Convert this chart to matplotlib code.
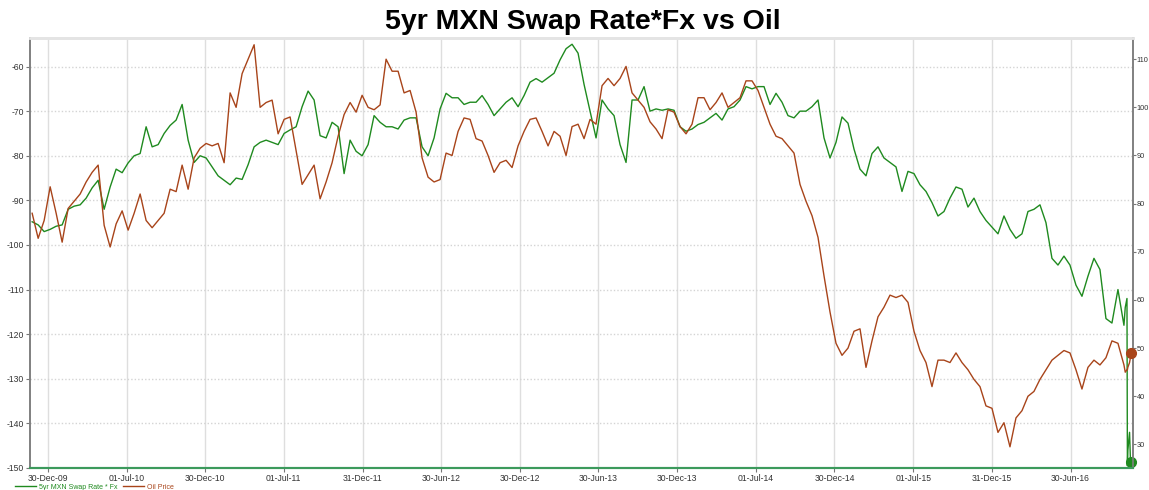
import matplotlib
matplotlib.use("Agg")
import matplotlib.pyplot as plt
import matplotlib.dates as mdates
import pandas as pd

plt.rcParams['font.family'] = ['Liberation Sans', 'DejaVu Sans']
plt.rcParams['axes.unicode_minus'] = False

# fortnightly readings, 24-Nov-09 .. 01-Nov-16
swap_fx = [
	-94.8, -95.5, -97.0, -96.5, -95.8, -95.5, -92.0, -91.3, -91.0, -89.5,
	-87.2, -85.5, -92.0, -87.0, -83.0, -83.8, -81.6, -80.0, -79.5, -73.5,
	-78.0, -77.5, -75.0, -73.2, -72.0, -68.5, -76.5, -81.5, -80.0, -80.5,
	-82.5, -84.5, -85.5, -86.5, -85.0, -85.3, -82.0, -78.0, -77.0, -76.5,
	-77.0, -77.5, -75.0, -74.2, -73.5, -69.0, -65.5, -67.5, -75.5, -76.0,
	-72.5, -73.5, -84.0, -76.5, -79.0, -80.0, -77.5, -71.0, -72.5, -73.5,
	-73.5, -74.0, -72.0, -71.5, -71.5, -78.0, -80.0, -76.0, -69.5, -66.0,
	-67.0, -67.0, -68.5, -68.0, -68.0, -66.5, -68.5, -71.0, -69.5, -68.0,
	-67.0, -69.0, -66.5, -63.5, -62.7, -63.5, -62.5, -61.5, -58.5, -56.0,
	-55.0, -57.0, -64.0, -70.0, -76.0, -67.5, -69.5, -71.0, -77.5, -81.5,
	-67.5, -67.5, -64.5, -70.0, -69.5, -69.8, -69.5, -69.8, -73.5, -74.5,
	-74.0, -73.0, -72.5, -71.5, -70.5, -72.0, -69.5, -69.0, -67.5, -64.5,
	-65.0, -64.5, -64.5, -68.5, -66.0, -68.0, -71.0, -71.5, -70.0, -70.0,
	-69.0, -67.5, -76.0, -80.5, -77.0, -71.3, -72.7, -78.5, -83.0, -84.5,
	-79.5, -78.0, -80.5, -81.5, -82.5, -88.0, -83.5, -84.0, -86.5, -88.0,
	-90.5, -93.5, -92.5, -89.5, -87.0, -87.5, -91.5, -89.5, -92.5, -94.5,
	-96.0, -97.5, -93.5, -96.5, -98.5, -97.5, -92.5, -92.0, -91.0, -95.0,
	-103.0, -104.5, -102.5, -104.5, -109.0, -111.5, -107.0, -103.0, -105.5, -116.5,
	-117.5, -110.0, -118.0,
]
oil = [
	78.0, 72.8, 76.5, 83.5, 78.0, 72.0, 79.0, 80.5, 82.0, 84.5,
	86.5, 88.0, 75.5, 71.0, 75.8, 78.5, 74.5, 78.0, 82.0, 76.5,
	75.0, 76.5, 78.0, 83.0, 82.5, 88.0, 83.0, 89.5, 91.5, 92.5,
	92.0, 92.5, 88.5, 103.0, 100.0, 107.0, 110.0, 113.0, 100.0, 101.0,
	101.5, 94.5, 97.5, 98.0, 91.0, 84.0, 86.0, 88.0, 81.0, 84.5,
	88.5, 94.0, 98.5, 101.0, 99.0, 102.5, 100.0, 99.5, 100.5, 110.0,
	107.5, 107.5, 103.0, 103.5, 99.0, 89.5, 85.5, 84.5, 85.0, 90.5,
	90.0, 95.0, 97.8, 97.5, 93.5, 93.0, 90.0, 86.5, 88.5, 89.0,
	87.5, 92.0, 95.0, 97.5, 97.8, 95.0, 92.0, 95.0, 94.0, 90.0,
	96.0, 96.5, 93.5, 97.5, 96.5, 104.5, 106.0, 104.5, 106.0, 108.5,
	103.0, 101.5, 100.0, 97.0, 95.5, 93.5, 99.5, 99.0, 96.0, 94.5,
	96.5, 102.0, 102.0, 99.5, 101.0, 103.0, 100.0, 101.0, 102.0, 105.5,
	105.5, 103.5, 100.0, 96.5, 94.0, 93.5, 92.0, 90.5, 84.0, 80.5,
	77.5, 73.0, 65.0, 57.5, 51.0, 48.5, 50.0, 53.5, 54.0, 46.0,
	51.5, 56.5, 58.5, 61.0, 60.5, 61.0, 59.5, 53.5, 49.5, 47.0,
	42.0, 47.5, 47.5, 47.0, 49.0, 47.0, 45.5, 43.5, 42.0, 38.0,
	37.5, 32.5, 34.5, 29.5, 35.5, 37.0, 40.0, 41.0, 43.5, 45.5,
	47.5, 48.5, 49.5, 49.0, 45.5, 41.5, 46.0, 47.5, 46.5, 48.0,
	51.5, 51.0, 46.5,
]

# daily readings around the US election
tail_dates = ["2016-11-04", "2016-11-08", "2016-11-09", "2016-11-10",
	"2016-11-14", "2016-11-16", "2016-11-18"]
tail_swap_fx = [-114.0, -112.0, -149.5, -146.0, -142.0, -148.0, -148.6]
tail_oil = [45.0, 45.5, 45.5, 46.0, 47.0, 48.0, 49.0]

tick_dates = ["2009-12-30", "2010-07-01", "2010-12-30", "2011-07-01",
	"2011-12-31", "2012-06-30", "2012-12-30", "2013-06-30", "2013-12-30",
	"2014-07-01", "2014-12-30", "2015-07-01", "2015-12-31", "2016-06-30"]

GREEN = "#1f8a1f"
BROWN = "#a8441a"

dates = pd.date_range("2009-11-24", "2016-11-01", periods=len(swap_fx))
dates = dates.append(pd.to_datetime(tail_dates))
swap_all = swap_fx + tail_swap_fx
oil_all = oil + tail_oil

fig = plt.figure(figsize=(11.49, 4.90), dpi=100)
ax = fig.add_axes([30 / 1149, 1 - 468 / 490, 1103 / 1149, 430 / 490])
ax2 = ax.twinx()

ax.plot(dates, swap_all, color=GREEN, lw=1.0, label="5yr MXN Swap Rate * Fx", zorder=3)
ax2.plot(dates, oil_all, color=BROWN, lw=1.0, label="Oil Price", zorder=3)
ax.plot(dates[-1], swap_all[-1], "o", color=GREEN, ms=7, zorder=5, clip_on=False)
ax2.plot(dates[-1], oil_all[-1], "o", color=BROWN, ms=7, zorder=5, clip_on=False)

ax.set_xlim(pd.Timestamp("2009-11-19"), pd.Timestamp("2016-11-22"))
ax.set_ylim(-150, -53.6)
ax2.set_ylim(25.1, 114.4)

ax.set_yticks(range(-150, -59, 10))
ax2.set_yticks(range(30, 111, 10))
ax.xaxis.set_major_locator(plt.FixedLocator(mdates.date2num(pd.to_datetime(tick_dates))))
ax.xaxis.set_major_formatter(mdates.DateFormatter("%d-%b-%y"))

ax.grid(axis="x", color="#dedede", lw=1.0)
ax.grid(axis="y", color="#d4d4d4", lw=1.0, ls=(0, (1, 1.5)))
ax.set_axisbelow(True)

ax.tick_params(labelsize=6.2, length=3, width=0.8, color="#777777", labelcolor="#333333", pad=1.5)
ax2.tick_params(labelsize=5.3, length=2, width=0.8, color="#777777", labelcolor="#333333", pad=0.8)
for a in (ax, ax2):
	a.spines["top"].set_color("#e4e4e4")
	a.spines["top"].set_linewidth(2)
	a.spines["left"].set_color("#808080")
	a.spines["left"].set_linewidth(1.2)
	a.spines["right"].set_color("#808080")
	a.spines["right"].set_linewidth(1.2)
	a.spines["bottom"].set_color("#3c9a5c")
	a.spines["bottom"].set_linewidth(1.5)

fig.text(0.507, 0.955, "5yr MXN Swap Rate*Fx vs Oil", ha="center", va="center",
	fontsize=20.5, fontweight="bold")

fig.legend(loc="lower left", bbox_to_anchor=(0.008, -0.014), ncol=2, frameon=False,
	fontsize=5, labelcolor="linecolor", handlelength=3, handletextpad=0.4,
	columnspacing=0.8)

fig.savefig("out.png", dpi=100)
